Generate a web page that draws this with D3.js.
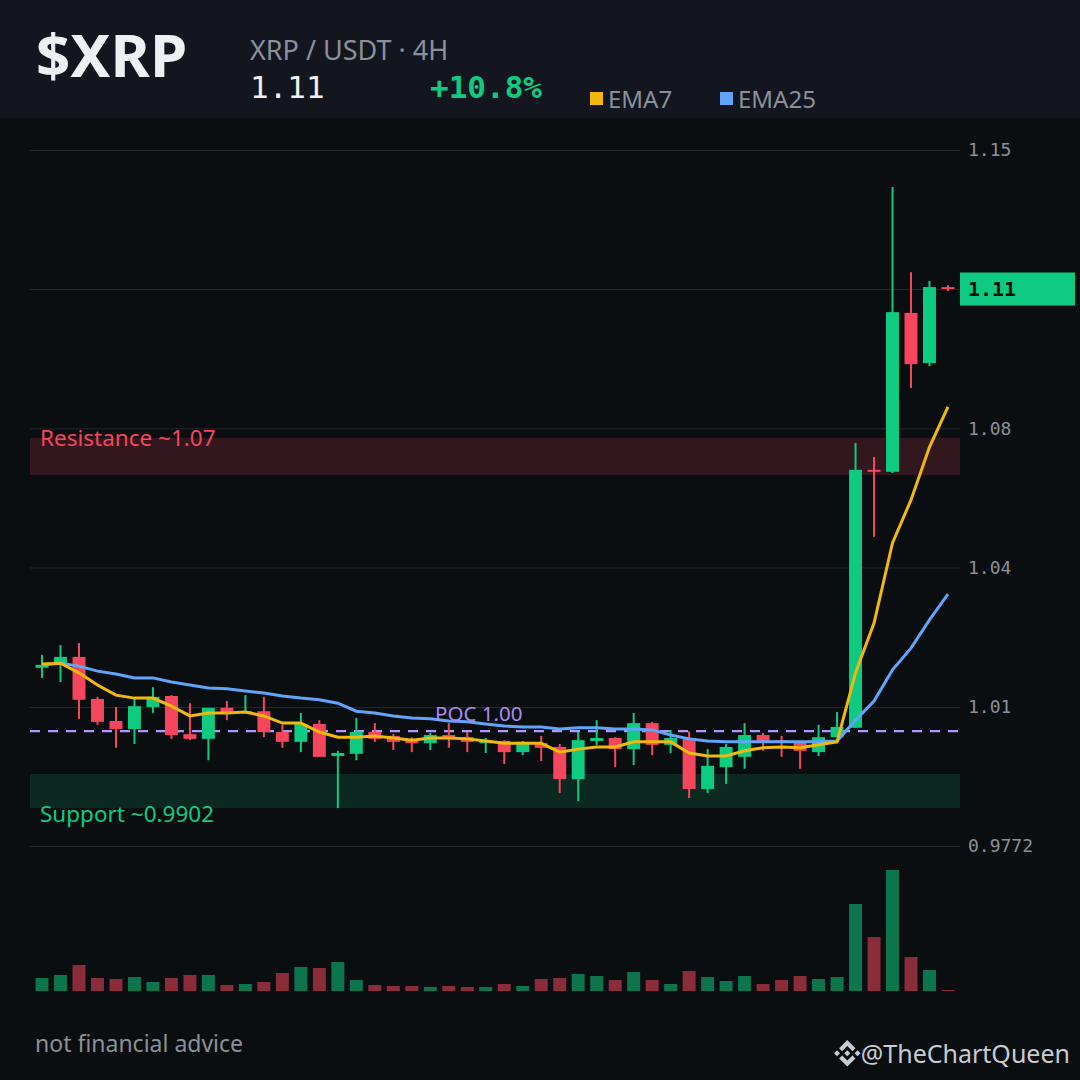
<!DOCTYPE html>
<html>
<head>
<meta charset="utf-8">
<script src="https://cdn.jsdelivr.net/npm/d3@7/dist/d3.min.js"></script>
<style>
  html, body { margin: 0; padding: 0; background: #0b0e11; }
  svg { display: block; }
</style>
</head>
<body>
<svg id="chart" width="1080" height="1080"></svg>
<script>
// ---------------- DATA ----------------
const opens  = [1.0188,1.0197,1.0214,1.0114,1.0062,1.0043,1.0095,1.0121,1.0031,1.0020,
                1.0093,1.0083,1.0085,1.0036,1.0013,1.0055,0.9980,0.9985,1.0036,1.0027,
                1.0020,1.0010,1.0029,1.0024,1.0010,1.0015,0.9989,1.0010,1.0001,0.9926,
                1.0015,1.0022,0.9996,1.0057,1.0006,1.0022,0.9903,0.9954,0.9978,1.0029,
                1.0017,1.0013,0.9989,1.0024,1.0046,1.0671,1.0666,1.1070,1.0941,1.1137];
const highs  = [1.0219,1.0242,1.0247,1.0119,1.0095,1.0114,1.0142,1.0123,1.0104,1.0093,
                1.0109,1.0123,1.0119,1.0053,1.0081,1.0064,0.9992,1.0069,1.0057,1.0031,
                1.0024,1.0034,1.0057,1.0036,1.0022,1.0017,1.0015,1.0027,1.0008,1.0036,
                1.0064,1.0024,1.0081,1.0060,1.0041,1.0038,0.9996,1.0008,1.0057,1.0034,
                1.0027,1.0013,1.0053,1.0083,1.0738,1.0703,1.1401,1.1176,1.1153,1.1142];
const lows   = [1.0164,1.0154,1.0067,1.0053,0.9999,1.0008,1.0081,1.0020,1.0017,0.9970,
                1.0064,1.0083,1.0024,0.9999,0.9989,0.9978,0.9859,0.9970,1.0013,0.9994,
                0.9989,0.9994,0.9999,0.9989,0.9987,0.9961,0.9982,0.9968,0.9894,0.9875,
                1.0006,0.9954,0.9959,0.9982,0.9987,0.9882,0.9894,0.9915,0.9950,0.9992,
                0.9978,0.9950,0.9980,1.0024,1.0046,1.0505,1.0663,1.0877,1.0933,1.1127];
const closes = [1.0195,1.0214,1.0112,1.0060,1.0043,1.0097,1.0119,1.0029,1.0020,1.0093,
                1.0083,1.0085,1.0036,1.0013,1.0055,0.9978,0.9987,1.0036,1.0020,1.0013,
                1.0010,1.0029,1.0024,1.0013,1.0017,0.9989,1.0013,0.9999,0.9926,1.0017,
                1.0022,0.9996,1.0057,1.0006,1.0022,0.9903,0.9957,1.0001,1.0029,1.0013,
                1.0013,0.9992,1.0024,1.0048,1.0671,1.0666,1.1072,1.0938,1.1137,1.1132];
const volumes = [13,16,26,13,12,14,9,13,16,16,
                 6,7,9,18,24,23,29,11,6,5,
                 5,4,5,4,4,7,5,12,13,17,
                 15,11,19,11,7,20,14,10,15,7,
                 11,15,12,14,87,54,121,34,21,1];
const ema7  = [1.0197,1.0199,1.0176,1.0147,1.0123,1.0116,1.0116,1.0097,1.0074,1.0081,
               1.0081,1.0083,1.0074,1.0057,1.0057,1.0036,1.0024,1.0024,1.0027,1.0022,
               1.0017,1.0022,1.0022,1.0020,1.0015,1.0010,1.0010,1.0010,0.9989,0.9996,
               1.0001,1.0001,1.0013,1.0013,1.0013,0.9987,0.9980,0.9980,0.9992,0.9999,
               1.0001,0.9999,1.0006,1.0013,1.0176,1.0295,1.0490,1.0596,1.0728,1.0829];
const ema25 = [1.0195,1.0199,1.0192,1.0180,1.0173,1.0164,1.0164,1.0154,1.0147,1.0140,
               1.0138,1.0133,1.0128,1.0121,1.0116,1.0112,1.0104,1.0085,1.0081,1.0074,
               1.0069,1.0067,1.0062,1.0060,1.0055,1.0050,1.0048,1.0048,1.0043,1.0046,
               1.0046,1.0043,1.0043,1.0041,1.0029,1.0020,1.0015,1.0013,1.0013,1.0013,
               1.0013,1.0013,1.0013,1.0015,1.0064,1.0109,1.0183,1.0235,1.0303,1.0365];
const tickValues = [0.9772, 1.0095, 1.0430, 1.0775, 1.1132, 1.15];
const tickLabels = ["0.9772", "1.01", "1.04", "1.08", "1.11", "1.15"];
const lastPrice = 1.1132;
const lastPriceLabel = "1.11";
const changeLabel = "+10.8%";
const pocValue = 1.0038;
const pocLabel = "POC 1.00";
const resistanceBand = [1.0658, 1.0751];
const resistanceLabel = "Resistance ~1.07";
const supportBand = [0.9859, 0.9938];
const supportLabel = "Support ~0.9902";

// ---------------- STYLE ----------------
const GREEN = "#0ecb81", RED = "#f6465d", YEL = "#f0b90b", BLUE = "#60a5fa";
const SANS = "'Noto Sans', 'Open Sans', sans-serif";
const MONO = "'DejaVu Sans Mono', monospace";
const GRAY = "#8b909a";

const svg = d3.select("#chart");
const idx = d3.range(opens.length);

const x = d3.scaleBand().domain(idx).range([30, 960]).padding(0.3);
const cx = i => x(i) + x.bandwidth() / 2;
const y = d3.scaleLog().domain([0.9772, 1.15]).range([846, 150]);
const yv = d3.scaleLinear().domain([0, d3.max(volumes)]).range([991, 870]);

// layers
const gBg = svg.append("g");
const gBands = svg.append("g");
const gGridL = svg.append("g");
const gMarks = svg.append("g");
const gTop = svg.append("g");

// backgrounds
gBg.append("rect").attr("x", 0).attr("y", 0).attr("width", 1080).attr("height", 1080).attr("fill", "#0b0e11");
gBg.append("rect").attr("x", 0).attr("y", 0).attr("width", 1080).attr("height", 118).attr("fill", "#13161e");

// header
gTop.append("text").attr("x", 36).attr("y", 77).text("$XRP")
  .attr("font-family", SANS).attr("font-weight", 700).attr("font-size", 60).attr("fill", "#eef0f3");
gTop.append("text").attr("x", 250).attr("y", 60).text("XRP / USDT · 4H")
  .attr("font-family", SANS).attr("font-size", 27).attr("fill", GRAY);
gTop.append("text").attr("x", 250).attr("y", 98).text(lastPriceLabel)
  .attr("font-family", MONO).attr("font-size", 31).attr("fill", "#eef0f3");
gTop.append("text").attr("x", 430).attr("y", 98).text(changeLabel)
  .attr("font-family", MONO).attr("font-weight", 700).attr("font-size", 31).attr("fill", GREEN);
const legend = [{n: "EMA7", c: YEL, x: 590}, {n: "EMA25", c: BLUE, x: 720}];
legend.forEach(l => {
  gTop.append("rect").attr("x", l.x).attr("y", 92).attr("width", 13).attr("height", 13).attr("fill", l.c);
  gTop.append("text").attr("x", l.x + 18).attr("y", 108).text(l.n)
    .attr("font-family", SANS).attr("font-size", 24).attr("fill", GRAY);
});

// bands
gBands.append("rect").attr("x", 30).attr("width", 930)
  .attr("y", y(resistanceBand[1])).attr("height", y(resistanceBand[0]) - y(resistanceBand[1]))
  .attr("fill", RED).attr("fill-opacity", 0.17);
gBands.append("rect").attr("x", 30).attr("width", 930)
  .attr("y", y(supportBand[1])).attr("height", y(supportBand[0]) - y(supportBand[1]))
  .attr("fill", GREEN).attr("fill-opacity", 0.15);

// grid
const grid = d3.axisLeft(y).tickValues(tickValues).tickFormat("").tickSize(930);
const gGrid = gGridL.append("g").attr("transform", "translate(960,0)").call(grid);
gGrid.select(".domain").remove();
gGrid.selectAll("line").attr("stroke", "#23272e").attr("stroke-width", 1);

// axis labels (the one under the price tag is covered by it, as in the reference)
const tagY = y(lastPrice);
const axis = d3.axisRight(y).tickValues(tickValues.filter(v => Math.abs(y(v) - tagY) > 17))
  .tickFormat(v => tickLabels[tickValues.indexOf(v)]).tickSize(0).tickPadding(8);
const gAx = gTop.append("g").attr("transform", "translate(960,0)").call(axis);
gAx.select(".domain").remove();
gAx.selectAll("text").attr("font-family", MONO).attr("font-size", 18).attr("fill", GRAY);

// band labels
gTop.append("text").attr("x", 40).attr("y", y(resistanceBand[1]) + 8).text(resistanceLabel)
  .attr("font-family", SANS).attr("font-size", 22.5).attr("fill", RED);
gTop.append("text").attr("x", 40).attr("y", y(supportBand[0]) + 14).text(supportLabel)
  .attr("font-family", SANS).attr("font-size", 22.5).attr("fill", GREEN);

// POC
gGridL.append("line").attr("x1", 30).attr("x2", 960).attr("y1", y(pocValue)).attr("y2", y(pocValue))
  .attr("stroke", "#b197fc").attr("stroke-width", 2.2).attr("stroke-dasharray", "10,8");
gTop.append("text").attr("x", 435).attr("y", y(pocValue) - 10).text(pocLabel)
  .attr("font-family", SANS).attr("font-size", 20.5).attr("fill", "#a98bf0");

// volume
gMarks.append("g").selectAll("rect").data(idx).join("rect")
  .attr("x", i => x(i)).attr("width", x.bandwidth())
  .attr("y", i => yv(volumes[i])).attr("height", i => yv(0) - yv(volumes[i]))
  .attr("fill", i => closes[i] >= opens[i] ? GREEN : RED).attr("fill-opacity", 0.55);

// candles
const gC = gMarks.append("g");
gC.selectAll("line").data(idx).join("line")
  .attr("x1", cx).attr("x2", cx)
  .attr("y1", i => y(highs[i])).attr("y2", i => y(lows[i]))
  .attr("stroke", i => closes[i] >= opens[i] ? GREEN : RED).attr("stroke-width", 2);
gC.selectAll("rect").data(idx).join("rect")
  .attr("x", i => x(i)).attr("width", x.bandwidth())
  .attr("y", i => y(Math.max(opens[i], closes[i])))
  .attr("height", i => Math.max(2, Math.abs(y(opens[i]) - y(closes[i]))))
  .attr("fill", i => closes[i] >= opens[i] ? GREEN : RED);

// EMA lines
const line = arr => d3.line().x(i => cx(i)).y(i => y(arr[i]))(idx);
gMarks.append("path").attr("d", line(ema25)).attr("fill", "none").attr("stroke", BLUE).attr("stroke-width", 3);
gMarks.append("path").attr("d", line(ema7)).attr("fill", "none").attr("stroke", YEL).attr("stroke-width", 3);

// price tag
gTop.append("rect").attr("x", 960).attr("y", tagY - 16.5).attr("width", 115).attr("height", 33).attr("fill", GREEN);
gTop.append("text").attr("x", 968).attr("y", tagY).attr("dy", "0.35em").text(lastPriceLabel)
  .attr("font-family", MONO).attr("font-weight", 700).attr("font-size", 20).attr("fill", "#0b0e11");

// footer
gTop.append("text").attr("x", 35).attr("y", 1052).text("not financial advice")
  .attr("font-family", SANS).attr("font-size", 23).attr("fill", GRAY);
gTop.append("path")
  .attr("d", "M38.73 53.2l24.59-24.58 24.6 24.6 14.3-14.31L63.32 0 24.42 38.9l14.31 14.3zM0 63.31l14.3-14.31 14.31 14.31-14.31 14.3zm38.73 10.11l24.59 24.59 24.6-24.6 14.31 14.29-38.9 38.91-38.91-38.88-.02-.02zm59.16-10.1l14.3-14.31 14.32 14.31-14.31 14.3zM77.83 63.3L63.32 48.78 52.59 59.51l-1.24 1.23-2.54 2.54 14.51 14.5 14.51-14.47z")
  .attr("transform", "translate(834,1040) scale(0.21)").attr("fill", "#c8ccd2");
gTop.append("text").attr("x", 1070).attr("y", 1063).attr("text-anchor", "end").text("@TheChartQueen")
  .attr("font-family", SANS).attr("font-size", 25).attr("fill", "#c8ccd2");
</script>
</body>
</html>
